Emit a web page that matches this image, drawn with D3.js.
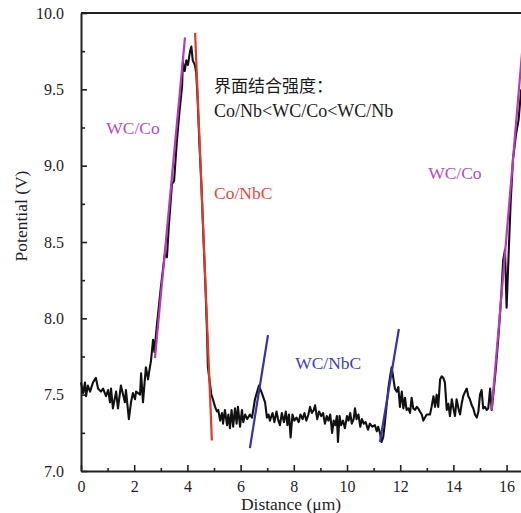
<!DOCTYPE html>
<html>
<head>
<meta charset="utf-8">
<script src="https://cdn.jsdelivr.net/npm/d3@7"></script>
<style>
  html, body { margin: 0; padding: 0; background: #fff; }
  svg { display: block; overflow: hidden; }
  text { font-family: "Liberation Serif", "Noto Sans CJK SC", serif; }
</style>
</head>
<body>
<svg id="chart" width="521" height="513"></svg>
<script>
// potential profile (distance in um, potential in V)
const distance = [
  0.00,0.08,0.15,0.19,0.26,0.34,0.45,0.56,0.64,0.75,0.83,0.94,1.02,1.09,1.13,1.20,1.32,1.39,1.50,1.65,
  1.69,1.80,1.88,1.95,2.03,2.07,2.22,2.26,2.33,2.41,2.44,2.52,2.59,2.63,2.71,2.76,
  2.85,3.00,3.15,3.23,3.30,3.42,3.50,3.60,3.70,3.80,3.83,3.90,3.96,4.02,4.10,4.15,4.20,4.28,4.33,
  4.38,4.45,4.52,4.60,4.68,4.74,4.77,4.90,
  4.96,5.04,5.11,5.16,5.23,5.30,5.34,5.41,5.49,5.54,5.60,5.66,5.72,5.79,5.85,5.90,5.98,6.05,6.10,6.17,
  6.25,6.35,6.43,6.54,6.69,6.80,6.92,6.99,
  7.05,7.10,7.20,7.27,7.35,7.42,7.48,7.55,7.63,7.70,7.76,7.82,7.88,7.95,8.02,8.10,8.18,8.25,8.33,8.40,
  8.47,8.55,8.61,8.68,8.75,8.80,8.88,8.95,9.03,9.10,9.17,9.24,9.30,9.37,9.44,9.50,9.56,9.62,9.66,9.72,
  9.78,9.85,9.92,10.00,10.06,10.12,10.18,10.25,10.30,10.36,10.43,10.50,10.56,10.63,10.70,10.79,10.86,
  10.95,11.05,11.12,11.17,11.24,11.30,
  11.36,11.42,11.50,11.56,11.62,11.68,11.74,11.80,11.87,11.93,11.99,12.06,12.12,12.18,12.24,12.31,12.37,
  12.43,12.49,12.56,12.62,12.68,12.74,12.81,12.87,12.93,13.00,13.12,13.18,13.25,13.31,13.37,13.43,13.50,
  13.56,13.62,13.68,13.75,13.81,13.87,13.94,14.00,14.06,14.12,14.19,14.25,14.31,14.37,14.44,14.50,14.56,
  14.62,14.69,14.75,14.81,14.88,14.94,15.00,15.06,15.12,15.19,15.25,15.31,15.38,15.44,
  15.50,15.60,15.70,15.80,15.87,15.94,16.00,16.05,16.15,16.24,16.35,16.45,16.55
];
const potential = [
  7.58,7.51,7.58,7.49,7.56,7.52,7.58,7.61,7.54,7.52,7.54,7.49,7.53,7.45,7.54,7.41,7.52,7.41,7.56,7.45,
  7.53,7.34,7.45,7.51,7.47,7.52,7.50,7.64,7.45,7.62,7.68,7.60,7.68,7.72,7.86,7.78,
  7.95,8.20,8.42,8.40,8.60,8.88,8.90,9.15,9.35,9.52,9.68,9.62,9.69,9.66,9.75,9.78,9.69,9.66,9.61,
  9.45,9.15,8.90,8.55,8.20,7.90,7.68,7.50,
  7.47,7.42,7.39,7.40,7.33,7.38,7.31,7.40,7.30,7.37,7.28,7.40,7.29,7.41,7.31,7.42,7.29,7.40,7.32,7.37,
  7.34,7.37,7.35,7.47,7.56,7.51,7.45,7.35,
  7.37,7.33,7.38,7.32,7.39,7.33,7.30,7.38,7.32,7.39,7.30,7.37,7.22,7.37,7.33,7.35,7.32,7.37,7.34,7.38,
  7.33,7.37,7.42,7.38,7.40,7.43,7.34,7.39,7.36,7.38,7.31,7.36,7.33,7.37,7.25,7.33,7.30,7.36,7.19,7.36,
  7.30,7.33,7.28,7.36,7.33,7.38,7.31,7.34,7.41,7.34,7.37,7.29,7.34,7.31,7.32,7.27,7.31,
  7.29,7.30,7.26,7.29,7.25,7.19,
  7.22,7.31,7.45,7.55,7.62,7.68,7.61,7.54,7.52,7.55,7.42,7.52,7.41,7.48,7.40,7.41,7.38,
  7.48,7.41,7.40,7.42,7.41,7.39,7.37,7.33,7.35,7.37,7.37,7.42,7.49,7.42,7.50,7.42,7.60,
  7.62,7.61,7.58,7.40,7.44,7.36,7.47,7.41,7.36,7.47,7.41,7.37,7.44,7.49,7.52,7.54,7.49,
  7.47,7.43,7.41,7.37,7.35,7.39,7.50,7.53,7.41,7.42,7.40,7.41,7.54,7.40,
  7.50,7.68,7.90,8.15,8.38,8.45,8.07,8.30,8.75,9.04,9.20,9.30,9.50
];

// interface fit lines: [x0, y0, x1, y1]
const fitNames  = ["WC/Co", "Co/NbC", "WC/NbC", "WC/NbC", "WC/Co"];
const fitColors = ["#b43cb4", "#dc3a2c", "#3b32a8", "#3b32a8", "#b43cb4"];
const fitStart  = [[2.78, 7.74], [4.29, 9.87], [6.35, 7.15], [11.24, 7.19], [15.44, 7.40]];
const fitEnd    = [[3.91, 9.84], [4.92, 7.20], [7.03, 7.89], [11.95, 7.93], [16.60, 9.78]];

// labels
const labelText   = ["WC/Co", "Co/NbC", "WC/NbC", "WC/Co"];
const labelColors = ["#b44cbc", "#e8463c", "#4040b4", "#b44cbc"];
const labelPos    = [[0.95, 9.21], [5.0, 8.78], [8.05, 7.665], [13.05, 8.91]];
const noteLines   = ["界面结合强度：", "Co/Nb<WC/Co<WC/Nb"];

const xMajor = [0, 2, 4, 6, 8, 10, 12, 14, 16];
const xMinor = [1, 3, 5, 7, 9, 11, 13, 15];
const yMajor = [7.0, 7.5, 8.0, 8.5, 9.0, 9.5, 10.0];
const yMinor = [7.25, 7.75, 8.25, 8.75, 9.25, 9.75];

const margin = {left: 81, top: 13},
    plotH = 458,
    pxPerUm = 26.6;

const svg = d3.select("#chart");

const x = d3.scaleLinear().domain([0, 17]).range([margin.left, margin.left + 17 * pxPerUm]);
const y = d3.scaleLinear().domain([7, 10]).range([margin.top + plotH, margin.top]);

// frame on top
svg.append("line")
    .attr("x1", x(0)).attr("x2", x(17))
    .attr("y1", y(10)).attr("y2", y(10))
    .attr("stroke", "#222").attr("stroke-width", 2);

// minor ticks
svg.append("g")
    .attr("transform", "translate(0," + y(7) + ")")
    .call(d3.axisBottom(x).tickValues(xMinor).tickSize(-3).tickFormat(""))
    .call(g => g.select(".domain").remove());
svg.append("g")
    .attr("transform", "translate(" + x(0) + ",0)")
    .call(d3.axisLeft(y).tickValues(yMinor).tickSize(-4).tickFormat(""))
    .call(g => g.select(".domain").remove());

// main axes
const xAxis = svg.append("g")
    .attr("transform", "translate(0," + y(7) + ")")
    .call(d3.axisBottom(x).tickValues(xMajor).tickSize(-6).tickSizeOuter(0).tickPadding(10).tickFormat(d3.format("d")));
const yAxis = svg.append("g")
    .attr("transform", "translate(" + x(0) + ",0)")
    .call(d3.axisLeft(y).tickValues(yMajor).tickSize(-6).tickSizeOuter(0).tickPadding(17).tickFormat(d3.format(".1f")));

svg.selectAll(".tick line").attr("stroke", "#222").attr("stroke-width", 1.6);
[xAxis, yAxis].forEach(a => {
  a.select(".domain").attr("stroke", "#222").attr("stroke-width", 2);
  a.selectAll("text").attr("font-size", 16).attr("fill", "#1e1e28")
    .style("font-family", "'Liberation Serif', serif");
});

// axis titles
svg.append("text")
    .attr("x", 291).attr("y", 510)
    .attr("text-anchor", "middle")
    .attr("font-size", 17.5).attr("fill", "#1e1e28")
    .text("Distance (μm)");
svg.append("text")
    .attr("transform", "translate(27," + 216 + ") rotate(-90)")
    .attr("text-anchor", "middle")
    .attr("font-size", 17.5).attr("fill", "#1e1e28")
    .text("Potential (V)");

// potential curve
const line = d3.line().x(d => x(d[0])).y(d => y(d[1]));
svg.append("path")
    .datum(d3.zip(distance, potential))
    .attr("d", line)
    .attr("fill", "none")
    .attr("stroke", "#111")
    .attr("stroke-width", 2.1)
    .attr("stroke-linejoin", "round");

// fit lines
svg.append("g").selectAll("line")
  .data(fitNames.map((n, i) => ({name: n, c: fitColors[i], a: fitStart[i], b: fitEnd[i]})))
  .join("line")
    .attr("x1", d => x(d.a[0])).attr("y1", d => y(d.a[1]))
    .attr("x2", d => x(d.b[0])).attr("y2", d => y(d.b[1]))
    .attr("stroke", d => d.c)
    .attr("stroke-width", 2.2);

// interface labels
svg.append("g").selectAll("text")
  .data(labelText.map((t, i) => ({t: t, c: labelColors[i], p: labelPos[i]})))
  .join("text")
    .attr("x", d => x(d.p[0])).attr("y", d => y(d.p[1]))
    .attr("font-size", 17.5)
    .attr("fill", d => d.c)
    .text(d => d.t);

// note
svg.append("g").selectAll("text")
  .data(noteLines)
  .join("text")
    .attr("x", 214)
    .attr("y", (d, i) => 92 + i * 25)
    .attr("font-size", (d, i) => i == 0 ? 17 : 18)
    .attr("fill", "#1a1a1a")
    .text(d => d);
</script>
</body>
</html>
